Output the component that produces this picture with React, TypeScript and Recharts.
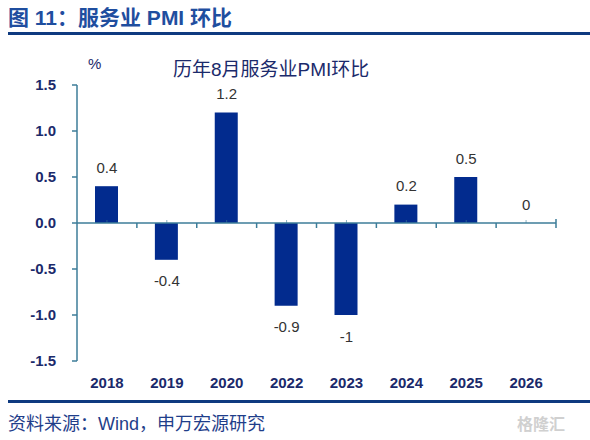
import React from 'react';
import { ComposedChart, Bar, Line, XAxis, YAxis, ReferenceLine, LabelList } from 'recharts';

const years = ['2018', '2019', '2020', '2022', '2023', '2024', '2025', '2026'];
const mom = [0.4, -0.4, 1.2, -0.9, -1, 0.2, 0.5, 0];
const yTicks = [-1.5, -1.0, -0.5, 0, 0.5, 1.0, 1.5];

const data = years.map((year, i) => ({ year, value: mom[i] }));

const W = 590;
const H = 440;
const PLOT_LEFT = 77;
const PLOT_RIGHT = 556;
const PLOT_TOP = 85;
const PLOT_BOTTOM = 361;
const Y_MIN = -1.5;
const Y_MAX = 1.5;
const BAND = (PLOT_RIGHT - PLOT_LEFT) / years.length;
const ZERO_Y = PLOT_TOP + ((PLOT_BOTTOM - PLOT_TOP) * Y_MAX) / (Y_MAX - Y_MIN);

const NAVY = '#1b2a6b';
const AXIS = '#3c7d99';
const BAR = '#022b8e';
const FONT = '"Liberation Sans", Arial, "Noto Sans CJK SC", sans-serif';

const YearTick = (props: any) => {
  const { x, y, payload, index } = props;
  const right = x + BAND / 2;
  return (
    <g>
      {/* tick at category boundary, hanging below the zero line */}
      <line x1={right} x2={right} y1={ZERO_Y} y2={ZERO_Y + 5} stroke={AXIS} strokeWidth={1.5} />
      {index === years.length - 1 && (
        <line x1={right} x2={right} y1={ZERO_Y - 4} y2={ZERO_Y} stroke={AXIS} strokeWidth={1.5} />
      )}
      <line x1={x} x2={x} y1={ZERO_Y - 3} y2={ZERO_Y} stroke={AXIS} strokeWidth={1} strokeOpacity={0.6} />
      <text
        x={x}
        y={y + 21}
        textAnchor="middle"
        dominantBaseline="central"
        fontSize={15}
        fill={NAVY}
        fontFamily={FONT}
        style={{ fontWeight: 600 }}
      >
        {payload.value}
      </text>
    </g>
  );
};

// label sits on the value point: above for >= 0, below for negatives
const ValueLabel = (props: any) => {
  const { x, y, value } = props;
  const ty = value < 0 ? y + 21 : y - 19;
  return (
    <text x={x} y={ty} textAnchor="middle" dominantBaseline="central" fontSize={15} fill="#333" fontFamily={FONT}>
      {value}
    </text>
  );
};

export default function App() {
  return (
    <div style={{ position: 'relative', width: W, height: H, background: '#fff', fontFamily: FONT }}>
      <style>{'body{margin:0}'}</style>
      <div
        style={{
          position: 'absolute', left: 8, top: 4, fontSize: 21, fontWeight: 700,
          color: '#1f4e9f', lineHeight: '28px', whiteSpace: 'nowrap',
        }}
      >
        图 11：服务业 PMI 环比
      </div>
      <div style={{ position: 'absolute', left: 8, right: 0, top: 32, height: 3, background: '#0e3a80' }} />
      <div style={{ position: 'absolute', left: 88, top: 55, fontSize: 15, color: NAVY }}>%</div>
      <div
        style={{
          position: 'absolute', left: 173, top: 57, fontSize: 19, color: NAVY,
          whiteSpace: 'nowrap', lineHeight: '26px',
        }}
      >
        历年8月服务业PMI环比
      </div>

      <div style={{ position: 'absolute', left: 0, top: 0 }}>
        <ComposedChart width={W} height={H} data={data} margin={{ top: PLOT_TOP, right: W - PLOT_RIGHT, bottom: 0, left: 0 }}>
          <YAxis
            width={PLOT_LEFT}
            domain={[Y_MIN, Y_MAX]}
            ticks={yTicks}
            tickFormatter={(v: number) => v.toFixed(1)}
            axisLine={{ stroke: AXIS, strokeWidth: 1.5 }}
            tickLine={{ stroke: AXIS, strokeWidth: 1.5 }}
            tickSize={5}
            tickMargin={16}
            tick={{ fontSize: 15, fill: NAVY, fontFamily: FONT, fontWeight: 600 }}
            interval={0}
            allowDataOverflow
          />
          <XAxis
            dataKey="year"
            height={H - PLOT_BOTTOM}
            axisLine={false}
            tickLine={false}
            tickSize={0}
            tickMargin={0}
            interval={0}
            tick={<YearTick />}
          />
          <ReferenceLine y={0} stroke={AXIS} strokeWidth={1.5} />
          <Bar dataKey="value" fill={BAR} barSize={23} isAnimationActive={false} />
          <Line dataKey="value" stroke="none" dot={false} activeDot={false} legendType="none" isAnimationActive={false}>
            <LabelList dataKey="value" content={<ValueLabel />} />
          </Line>
        </ComposedChart>
      </div>

      <div style={{ position: 'absolute', left: 8, right: 0, top: 400, height: 3, background: '#0e3a80' }} />
      <div
        style={{
          position: 'absolute', left: 8, top: 411, fontSize: 18, color: '#1f3e8a',
          whiteSpace: 'nowrap', lineHeight: '26px',
        }}
      >
        资料来源：Wind，申万宏源研究
      </div>
      <div
        style={{
          position: 'absolute', left: 517, top: 415, fontSize: 16, color: '#d0d0d0',
          whiteSpace: 'nowrap', lineHeight: '20px', fontWeight: 700,
        }}
      >
        格隆汇
      </div>
    </div>
  );
}
